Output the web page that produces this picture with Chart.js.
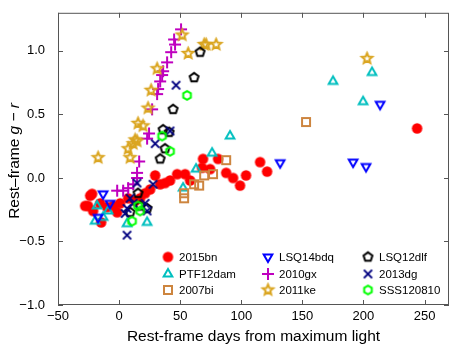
<!DOCTYPE html>
<html>
<head>
<meta charset="utf-8">
<script src="https://cdn.jsdelivr.net/npm/chart.js@4.4.1/dist/chart.umd.min.js"></script>
<style>
  body { margin: 0; background: #fff; }
  #chart { display: block; }
</style>
</head>
<body>
<canvas id="chart" width="463" height="348"></canvas>
<script>
// rest-frame days / g-r colour for each object
const days2015bn = [-27.8, -25.4, -23.7, -22.1, -21.3, -15.5, -14.7, -9.8, -4.9, -1.6, 0.8, 7.4, 13.1, 17.2, 21.3, 25.4, 29.5, 33.6, 37.6, 41.7, 47.5, 54.0, 58.1, 67.9, 68.7, 74.5, 81.0, 87.6, 93.3, 99.0, 103.9, 115.4, 121.1, 243.9];
const gr2015bn = [-0.22, -0.22, -0.14, -0.125, -0.26, -0.20, -0.35, -0.23, -0.22, -0.27, -0.20, -0.16, -0.18, -0.16, -0.12, -0.09, 0.02, -0.05, -0.04, -0.02, 0.03, 0.03, -0.02, 0.08, 0.15, 0.07, 0.15, 0.04, 0.0, -0.06, 0.02, 0.125, 0.05, 0.39];

const daysPTF12dam = [-18.0, -19.6, -13.1, -9.0, 6.5, 22.9, 52.4, 63.0, 76.1, 90.8, 175.1, 199.7, 207.0];
const grPTF12dam = [-0.22, -0.34, -0.31, -0.26, -0.36, -0.35, -0.08, 0.07, 0.195, 0.33, 0.76, 0.60, 0.83];

const days2007bi = [53.2, 53.2, 61.4, 65.5, 69.6, 76.9, 87.6, 153.0];
const gr2007bi = [-0.12, -0.16, -0.05, -0.06, 0.02, 0.03, 0.14, 0.44];

const daysLSQ14bdq = [-17.2, -13.1, -7.4, 131.8, 191.5, 202.1, 213.6];
const grLSQ14bdq = [-0.31, -0.125, -0.20, 0.12, 0.125, 0.09, 0.58];

const days2010gx = [-1.6, 3.3, 7.4, 11.5, 14.7, 14.7, 16.4, 22.9, 24.5, 27.0, 31.1, 31.9, 33.6, 35.2, 36.0, 39.3, 42.6, 45.8, 45.0, 50.7];
const gr2010gx = [-0.10, -0.10, -0.08, -0.05, 0.0, 0.04, 0.13, 0.31, 0.35, 0.54, 0.66, 0.70, 0.76, 0.81, 0.84, 0.91, 0.99, 1.05, 1.09, 1.17];

const days2011ke = [-17.2, 7.4, 9.0, 11.5, 13.1, 14.7, 15.5, 19.6, 23.7, 26.2, 31.1, 51.6, 56.5, 69.6, 71.2, 79.4, 202.9];
const gr2011ke = [0.16, 0.23, 0.16, 0.27, 0.30, 0.29, 0.43, 0.41, 0.55, 0.69, 0.86, 1.125, 0.98, 1.05, 1.05, 1.05, 0.94];

const daysLSQ12dlf = [9.0, 15.5, 17.2, 22.9, 33.6, 37.6, 36.0, 40.9, 44.2, 61.4, 66.3];
const grLSQ12dlf = [-0.27, -0.12, -0.22, -0.24, 0.15, 0.23, 0.38, 0.36, 0.54, 0.79, 0.99];

const days2013dg = [4.9, 6.5, 6.5, 9.0, 11.5, 14.7, 21.3, 22.9, 27.8, 29.5, 41.7, 46.6];
const gr2013dg = [-0.28, -0.24, -0.45, -0.16, -0.20, -0.04, -0.20, -0.26, -0.05, 0.27, 0.37, 0.73];

const daysSSS120810 = [10.6, 15.5, 17.2, 35.2, 41.7, 55.6];
const grSSS120810 = [-0.34, -0.22, -0.26, 0.33, 0.21, 0.65];

const xTicks = [-50, 0, 50, 100, 150, 200, 250];
const yTicks = [-1.0, -0.5, 0.0, 0.5, 1.0];

const FONT = '"Liberation Sans", Arial, sans-serif';

// small offscreen canvases used as point styles
function makeMarker(shape, color, size, lw) {
  const pad = Math.ceil(lw) + 1;
  const s = Math.ceil(size + 2 * pad);
  const c = document.createElement('canvas');
  c.width = s; c.height = s;
  const ctx = c.getContext('2d');
  const cx = s / 2, cy = s / 2, r = size / 2;
  ctx.strokeStyle = color;
  ctx.fillStyle = color;
  ctx.lineWidth = lw;
  ctx.lineJoin = 'miter';
  const poly = (n, start, rad) => {
    ctx.beginPath();
    for (let i = 0; i < n; i++) {
      const a = start + i * 2 * Math.PI / n;
      const px = cx + rad * Math.cos(a), py = cy + rad * Math.sin(a);
      i ? ctx.lineTo(px, py) : ctx.moveTo(px, py);
    }
    ctx.closePath();
  };
  if (shape === 'circle') {
    ctx.beginPath(); ctx.arc(cx, cy, r, 0, Math.PI * 2); ctx.fill();
  } else if (shape === 'tri') {
    poly(3, -Math.PI / 2, r); ctx.stroke();
  } else if (shape === 'tridown') {
    poly(3, Math.PI / 2, r); ctx.stroke();
  } else if (shape === 'square') {
    ctx.strokeRect(cx - r * 0.8, cy - r * 0.8, r * 1.6, r * 1.6);
  } else if (shape === 'plus') {
    ctx.beginPath();
    ctx.moveTo(cx - r, cy); ctx.lineTo(cx + r, cy);
    ctx.moveTo(cx, cy - r); ctx.lineTo(cx, cy + r);
    ctx.stroke();
  } else if (shape === 'x') {
    const d = r * 0.75;
    ctx.beginPath();
    ctx.moveTo(cx - d, cy - d); ctx.lineTo(cx + d, cy + d);
    ctx.moveTo(cx - d, cy + d); ctx.lineTo(cx + d, cy - d);
    ctx.stroke();
  } else if (shape === 'star') {
    ctx.beginPath();
    for (let i = 0; i < 10; i++) {
      const a = -Math.PI / 2 + i * Math.PI / 5;
      const rad = i % 2 ? r * 0.45 : r;
      const px = cx + rad * Math.cos(a), py = cy + rad * Math.sin(a);
      i ? ctx.lineTo(px, py) : ctx.moveTo(px, py);
    }
    ctx.closePath(); ctx.stroke();
  } else if (shape === 'pent') {
    poly(5, -Math.PI / 2, r * 0.85); ctx.stroke();
  } else if (shape === 'hex') {
    poly(6, -Math.PI / 2, r * 0.8); ctx.stroke();
  }
  return c;
}

const series = [
  { label: '2015bn', x: days2015bn, y: gr2015bn, m: makeMarker('circle', '#ff0000', 10.5, 0) },
  { label: 'PTF12dam', x: daysPTF12dam, y: grPTF12dam, m: makeMarker('tri', '#00bfbf', 10, 2) },
  { label: '2007bi', x: days2007bi, y: gr2007bi, m: makeMarker('square', '#cd853f', 10, 2) },
  { label: 'LSQ14bdq', x: daysLSQ14bdq, y: grLSQ14bdq, m: makeMarker('tridown', '#0000ff', 10, 2) },
  { label: '2010gx', x: days2010gx, y: gr2010gx, m: makeMarker('plus', '#bf00bf', 12, 2) },
  { label: '2011ke', x: days2011ke, y: gr2011ke, m: makeMarker('star', '#daa520', 11, 2) },
  { label: 'LSQ12dlf', x: daysLSQ12dlf, y: grLSQ12dlf, m: makeMarker('pent', '#000000', 11, 2) },
  { label: '2013dg', x: days2013dg, y: gr2013dg, m: makeMarker('x', '#000080', 11, 2) },
  { label: 'SSS120810', x: daysSSS120810, y: grSSS120810, m: makeMarker('hex', '#00ff00', 11, 2) }
];

const datasets = series.map((s, i) => ({
  label: s.label,
  data: s.x.map((v, j) => ({ x: v, y: s.y[j] })),
  pointStyle: s.m,
  pointRadius: 5,
  order: series.length - i
}));

const fmt = v => (v < 0 ? '\u2212' : '') + Math.abs(v);

// frame, inward ticks, y title and legend
const decor = {
  id: 'decor',
  afterDraw(chart) {
    const ctx = chart.ctx;
    const a = chart.chartArea;
    const sx = chart.scales.x, sy = chart.scales.y;
    ctx.save();
    ctx.strokeStyle = '#555';
    ctx.lineWidth = 1;
    ctx.strokeRect(a.left + 0.5, a.top + 0.5, a.right - a.left - 1, a.bottom - a.top - 1);
    ctx.beginPath();
    xTicks.forEach(v => {
      const px = Math.round(sx.getPixelForValue(v)) + 0.5;
      ctx.moveTo(px, a.bottom); ctx.lineTo(px, a.bottom - 5);
      ctx.moveTo(px, a.top); ctx.lineTo(px, a.top + 5);
    });
    yTicks.forEach(v => {
      const py = Math.round(sy.getPixelForValue(v)) + 0.5;
      ctx.moveTo(a.left, py); ctx.lineTo(a.left + 5, py);
      ctx.moveTo(a.right, py); ctx.lineTo(a.right - 5, py);
    });
    ctx.stroke();

    // y axis title with italic g and r
    ctx.translate(15, (a.top + a.bottom) / 2 + 2);
    ctx.rotate(-Math.PI / 2);
    ctx.fillStyle = '#000';
    ctx.textBaseline = 'middle';
    const parts = [['Rest\u2013frame ', 'normal'], ['g', 'italic'], [' \u2212 ', 'normal'], ['r', 'italic']];
    let w = 0;
    parts.forEach(p => { ctx.font = p[1] + ' 15.5px ' + FONT; w += ctx.measureText(p[0]).width; });
    let cx = -w / 2;
    parts.forEach(p => {
      ctx.font = p[1] + ' 15.5px ' + FONT;
      ctx.fillText(p[0], cx, 0);
      cx += ctx.measureText(p[0]).width;
    });
    ctx.restore();

    // legend, filled column by column like the original
    ctx.save();
    ctx.font = '11.5px ' + FONT;
    ctx.fillStyle = '#000';
    ctx.textBaseline = 'middle';
    const colX = [168, 268, 368];
    const rowY = [257, 274, 290];
    series.forEach((s, i) => {
      const col = Math.floor(i / 3), row = i % 3;
      const mx = colX[col], my = rowY[row];
      ctx.drawImage(s.m, mx - s.m.width / 2, my - s.m.height / 2);
      ctx.fillText(s.label, mx + 11, my + 1);
    });
    ctx.restore();
  }
};

new Chart(document.getElementById('chart'), {
  type: 'scatter',
  data: { datasets },
  options: {
    responsive: false,
    animation: false,
    layout: { padding: { top: 10, right: 14, left: 0, bottom: 0 } },
    plugins: { legend: { display: false }, tooltip: { enabled: false } },
    scales: {
      x: {
        type: 'linear',
        min: -50, max: 270,
        afterFit: s => { s.height = 43; },
        afterBuildTicks: s => { s.ticks = xTicks.map(v => ({ value: v })); },
        grid: { display: false },
        border: { display: false },
        ticks: { color: '#000', font: { family: FONT, size: 13 }, padding: -4, maxRotation: 0, callback: fmt },
        title: { display: true, text: 'Rest-frame days from maximum light', color: '#000', font: { family: FONT, size: 15.5 }, padding: { top: 0, bottom: 2 } }
      },
      y: {
        type: 'linear',
        min: -1.0, max: 1.3,
        afterFit: s => { s.width = 58; },
        afterBuildTicks: s => { s.ticks = yTicks.map(v => ({ value: v })); },
        grid: { display: false },
        border: { display: false },
        ticks: { color: '#000', font: { family: FONT, size: 13 }, padding: 5, callback: v => (v < 0 ? '\u2212' : '') + Math.abs(v).toFixed(1) }
      }
    }
  },
  plugins: [decor]
});
</script>
</body>
</html>
